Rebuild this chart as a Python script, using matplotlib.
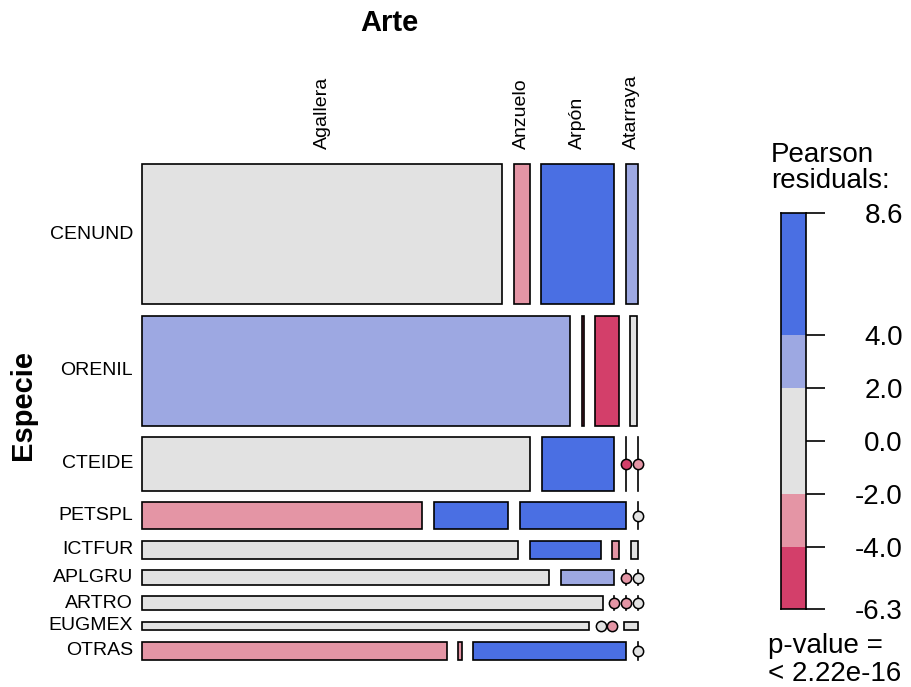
import numpy as np
import matplotlib.pyplot as plt

plt.rcParams['font.family'] = ['Liberation Sans', 'DejaVu Sans']

# ── Data: catches by species (rows) and fishing gear (columns) ───────────────
especie = ['CENUND', 'ORENIL', 'CTEIDE', 'PETSPL', 'ICTFUR',
           'APLGRU', 'ARTRO', 'EUGMEX', 'OTRAS']
arte = ['Agallera', 'Anzuelo', 'Arpón', 'Atarraya']

agallera = [829, 772, 341, 124, 111, 99, 103, 65, 88]
anzuelo = [36, 4, 64, 33, 21, 13, 0, 0, 1]
arpon = [168, 42, 0, 47, 2, 0, 0, 0, 44]
atarraya = [27, 13, 0, 0, 2, 0, 0, 2, 0]

p_value_text = '< 2.22e-16'

counts = np.array([agallera, anzuelo, arpon, atarraya], dtype=float).T

# ── Pearson residuals under independence ─────────────────────────────────────
n = counts.sum()
row_tot = counts.sum(axis=1)
col_tot = counts.sum(axis=0)
expected = np.outer(row_tot, col_tot) / n
resid = (counts - expected) / np.sqrt(expected)

BLUE, LBLUE, GREY, PINK, RED = '#4A6FE3', '#9DA8E2', '#E2E2E2', '#E495A5', '#D33F6A'


def shade(r):
    if r > 4:
        return BLUE
    if r > 2:
        return LBLUE
    if r < -4:
        return RED
    if r < -2:
        return PINK
    return GREY


W, H = 911, 687
fig = plt.figure(figsize=(W / 100, H / 100), dpi=100)

# mosaic panel (pixel box -> figure fraction)
left, right, top, bottom = 141.5, 637.5, 164.0, 659.5
ax = fig.add_axes([left / W, 1 - bottom / H, (right - left) / W, (bottom - top) / H])
ax.set_xlim(0, 1)
ax.set_ylim(1, 0)
ax.axis('off')

gap = 0.0232
nr, nc = counts.shape
avail_y = 1 - (nr - 1) * gap
avail_x = 1 - (nc - 1) * gap

y0 = 0.0
first_row_centres = []
for i in range(nr):
    h = row_tot[i] / n * avail_y
    x0 = 0.0
    for j in range(nc):
        w = counts[i, j] / row_tot[i] * avail_x
        col = shade(resid[i, j])
        if counts[i, j] > 0:
            ax.add_patch(plt.Rectangle((x0, y0), w, h, facecolor=col,
                                       edgecolor='black', linewidth=1.2,
                                       clip_on=False))
        else:
            # empty cell: line across the tile with a dot in the middle
            ax.plot([x0, x0], [y0, y0 + h], color='black', linewidth=1.2,
                    clip_on=False)
            ax.plot(x0, y0 + h / 2, 'o', ms=7.4, mfc=col, mec='black', mew=1.1,
                    clip_on=False, zorder=3)
        if i == 0:
            first_row_centres.append(x0 + w / 2)
        x0 += w + gap
    ax.text(-0.017, y0 + h / 2, especie[i], ha='right', va='center', fontsize=14)
    y0 += h + gap

for xc, lab in zip(first_row_centres, arte):
    ax.text(xc, -0.03, lab, rotation=90, ha='center', va='bottom', fontsize=14)

ax.text(0.5, -0.285, 'Arte', ha='center', va='center', fontsize=21, fontweight='bold')
ax.text(-0.238, 0.487, 'Especie', rotation=90, ha='center', va='center',
        fontsize=21, fontweight='bold')

# ── Residual legend ──────────────────────────────────────────────────────────
rmin, rmax = resid.min(), resid.max()
lg = fig.add_axes([781 / W, 1 - 609 / H, 25 / W, 396 / H])
lg.set_xlim(0, 1)
lg.set_ylim(rmin, rmax)
edges = [rmin, -4, -2, 2, 4, rmax]
for lo, hi, c in zip(edges[:-1], edges[1:], [RED, PINK, GREY, LBLUE, BLUE]):
    lg.axhspan(lo, hi, color=c, linewidth=0)
for s in lg.spines.values():
    s.set_linewidth(1.2)
lg.set_xticks([])
ticks = [rmax, 4, 2, 0, -2, -4, rmin]
lg.set_yticks(ticks)
lg.set_yticklabels([f'{t:.1f}' for t in ticks])
lg.yaxis.tick_right()
lg.tick_params(axis='y', direction='out', length=13.7, width=1.2, pad=56, labelsize=20)
for t in lg.get_yticklabels():
    t.set_horizontalalignment('right')

fig.text(771 / W, 1 - 162 / H, 'Pearson', fontsize=20, va='baseline')
fig.text(771 / W, 1 - 188 / H, 'residuals:', fontsize=20, va='baseline')
fig.text(768 / W, 1 - 653 / H, 'p-value =', fontsize=20, va='baseline')
fig.text(768 / W, 1 - 681 / H, p_value_text, fontsize=20, va='baseline')

fig.savefig('out.png', dpi=100)
